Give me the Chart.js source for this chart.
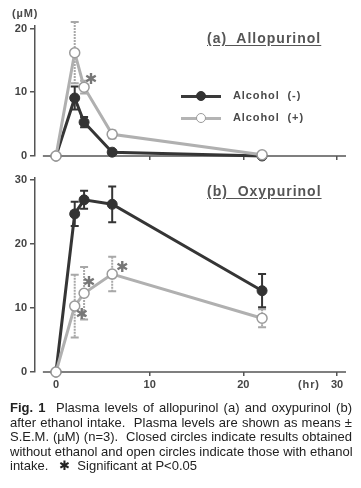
<!DOCTYPE html>
<html><head><meta charset="utf-8">
<script src="https://cdn.jsdelivr.net/npm/chart.js@4.4.1/dist/chart.umd.min.js"></script>
<style>
html,body{margin:0;padding:0;background:#fff;}
body{width:361px;height:488px;position:relative;overflow:hidden;font-family:"Liberation Sans",Arial,sans-serif;}
canvas{position:absolute;left:0;}
.t{position:absolute;white-space:nowrap;color:#4a4a4a;font-weight:bold;}
.title{font-size:14px;letter-spacing:1px;text-decoration:underline;text-underline-offset:2px;color:#555;}
.leg{font-size:11px;letter-spacing:0.9px;}
.ll{position:absolute;height:3px;}
.lm{position:absolute;width:10px;height:10px;border-radius:50%;box-sizing:border-box;}
#cap{position:absolute;left:10px;top:401px;width:342px;font-size:13px;line-height:14.6px;color:#222;}
#cap div{text-align:justify;text-align-last:justify;white-space:nowrap;}
#cap div.last{text-align:left;text-align-last:left;}
</style></head>
<body>
<canvas id="c1" width="361" height="170" style="top:0"></canvas>
<canvas id="c2" width="361" height="230" style="top:165px"></canvas>
<div class="t leg" style="left:12px;top:7px;">(µM)</div>
<div class="t title" style="left:207px;top:30px;">(a)&nbsp; Allopurinol</div>
<div class="t title" style="left:207px;top:183px;">(b)&nbsp; Oxypurinol</div>
<div class="ll" style="left:181px;top:95px;width:40px;background:#3a3a3a;"></div>
<div class="lm" style="left:196px;top:91px;background:#333;border:1px solid #333;"></div>
<div class="ll" style="left:181px;top:117px;width:40px;background:#b4b4b4;"></div>
<div class="lm" style="left:196px;top:113px;background:#fff;border:1.5px solid #9a9a9a;"></div>
<div class="t leg" style="left:233px;top:89px;">Alcohol&nbsp; (-)</div>
<div class="t leg" style="left:233px;top:111px;">Alcohol&nbsp; (+)</div>
<div class="t leg" style="left:298px;top:378px;">(hr)</div>
<div id="cap">
<div><b>Fig. 1</b>&nbsp; Plasma levels of allopurinol (a) and oxypurinol (b)</div>
<div>after ethanol intake.&nbsp; Plasma levels are shown as means ±</div>
<div>S.E.M. (µM) (n=3).&nbsp; Closed circles indicate results obtained</div>
<div>without ethanol and open circles indicate those with ethanol</div>
<div class="last">intake.&nbsp;&nbsp; ✱&nbsp; Significant at P&lt;0.05</div>
</div>
<script>
// ---- data ----
const timeHr = [0, 2, 3, 6, 22];
const alloNoAlcohol = [0, 9.1, 5.3, 0.6, 0];
const alloNoAlcoholSem = [0, 1.8, 0.8, 0.3, 0];
const alloAlcohol = [0, 16.2, 10.8, 3.4, 0.2];
const alloAlcoholSem = [0, 4.8, 1.0, 0.6, 0];
const oxyNoAlcohol = [0, 24.7, 26.9, 26.2, 12.7];
const oxyNoAlcoholSem = [0, 1.9, 1.4, 2.8, 2.6];
const oxyAlcohol = [0, 10.3, 12.3, 15.3, 8.4];
const oxyAlcoholSem = [0, 4.9, 4.1, 2.7, 1.4];
const alloSignificant = [2];       // indices of time points marked *
const oxySignificant = [1, 2, 3];
const xTicks = [0, 10, 20, 30];

const DARK = '#353535', LIGHT = '#b0b0b0', AXIS = '#555';

function pts(vals){ return timeHr.map((t,i)=>({x:t,y:vals[i]})); }

const errPlugin = {
  id:'err',
  beforeDatasetsDraw(chart){
    const {ctx, scales:{x,y}} = chart;
    chart.data.datasets.forEach(ds=>{
      ctx.save();
      ctx.strokeStyle = ds.errColor; ctx.lineWidth = 2;
      if (ds.errDash) ctx.setLineDash(ds.errDash);
      ds.data.forEach((p,i)=>{
        const s = ds.sem[i]; if(!s) return;
        const px = x.getPixelForValue(p.x);
        const y1 = y.getPixelForValue(p.y + s), y2 = y.getPixelForValue(p.y - s);
        ctx.beginPath(); ctx.moveTo(px,y1); ctx.lineTo(px,y2); ctx.stroke();
        ctx.setLineDash([]);
        ctx.beginPath(); ctx.moveTo(px-4,y1); ctx.lineTo(px+4,y1);
        ctx.moveTo(px-4,y2); ctx.lineTo(px+4,y2); ctx.stroke();
        if (ds.errDash) ctx.setLineDash(ds.errDash);
      });
      ctx.restore();
    });
    // x axis line (detached from y axis)
    ctx.save();
    ctx.strokeStyle = AXIS; ctx.lineWidth = 1.5;
    ctx.beginPath();
    ctx.moveTo(x.getPixelForValue(-1.4), chart.chartArea.bottom);
    ctx.lineTo(chart.chartArea.right, chart.chartArea.bottom);
    ctx.stroke(); ctx.restore();
  },
  afterDatasetsDraw(chart, args, opts){
    const {ctx, scales:{x,y}} = chart;
    ctx.save();
    ctx.fillStyle = '#777';
    ctx.font = 'bold 15px "DejaVu Sans"';
    ctx.textAlign = 'center'; ctx.textBaseline = 'middle';
    (opts.marks||[]).forEach(m=>{
      ctx.fillText('✱', x.getPixelForValue(m.x)+m.dx, y.getPixelForValue(m.y)+m.dy);
    });
    ctx.restore();
  }
};

function makeChart(id, noAlc, noAlcSem, alc, alcSem, yMax, padTop, xH, showX, marks){
  return new Chart(document.getElementById(id), {
    type:'line',
    data:{datasets:[
      {data:pts(alc), sem:alcSem, errColor:'#a8a8a8', errDash:[2,1], borderColor:LIGHT, borderWidth:3,
       pointRadius:5, pointBackgroundColor:'#fff', pointBorderColor:'#9a9a9a', pointBorderWidth:1.5, clip:false},
      {data:pts(noAlc), sem:noAlcSem, errColor:DARK, borderColor:DARK, borderWidth:3,
       pointRadius:5, pointBackgroundColor:'#333', pointBorderColor:'#333', pointBorderWidth:1, clip:false}
    ]},
    options:{
      responsive:false, animation:false, devicePixelRatio:1,
      layout:{padding:{top:padTop, right:15, left:0, bottom:0}},
      plugins:{legend:{display:false}, tooltip:{enabled:false}, err:{marks}},
      elements:{line:{tension:0}},
      scales:{
        x:{type:'linear', min:-2.24, max:30.96,
           afterFit:s=>{s.height = xH;},
           afterBuildTicks:s=>{s.ticks = xTicks.map(v=>({value:v}));},
           border:{display:false},
           grid:{drawOnChartArea:false, drawTicks:true, tickLength:4, color:AXIS, lineWidth:1.5},
           ticks:{display:showX, includeBounds:false, padding:2, color:'#444',
                  font:{family:'"Liberation Sans", Arial', weight:'bold', size:11}}},
        y:{min:0, max:yMax,
           afterFit:s=>{s.width = 35;},
           border:{display:true, color:AXIS, width:1.5},
           grid:{drawOnChartArea:false, drawTicks:true, tickLength:5, color:AXIS, lineWidth:1.5},
           ticks:{stepSize:10, includeBounds:false, padding:3, color:'#444',
                  font:{family:'"Liberation Sans", Arial', weight:'bold', size:11}}}
      }
    },
    plugins:[errPlugin]
  });
}

makeChart('c1', alloNoAlcohol, alloNoAlcoholSem, alloAlcohol, alloAlcoholSem, 20.39, 26, 14, false,
  alloSignificant.map(i=>({x:timeHr[i], y:alloAlcohol[i], dx:7, dy:-7})));
const oxyOff = {1:[7,9], 2:[5,-10], 3:[10,-6]};
makeChart('c2', oxyNoAlcohol, oxyNoAlcoholSem, oxyAlcohol, oxyAlcoholSem, 30.31, 13, 23, true,
  oxySignificant.map(i=>({x:timeHr[i], y:oxyAlcohol[i], dx:oxyOff[i][0], dy:oxyOff[i][1]})));
</script>
</body></html>
